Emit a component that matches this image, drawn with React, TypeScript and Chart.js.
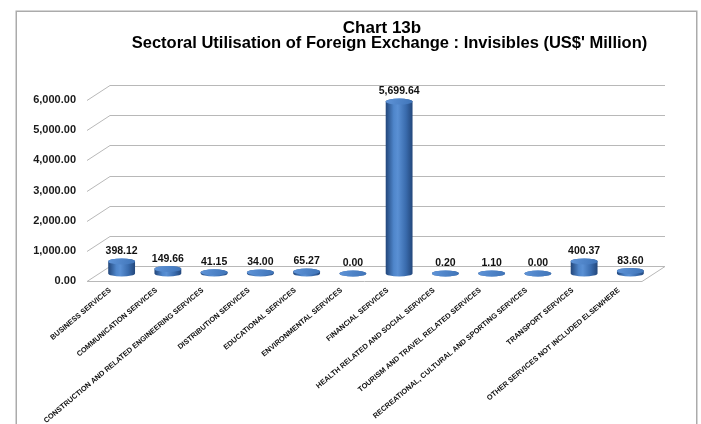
import { useEffect, useRef } from "react";
import { Chart, registerables } from "chart.js";

Chart.register(...registerables);

// Sectors (category axis)
const sectors = [
  "BUSINESS SERVICES",
  "COMMUNICATION SERVICES",
  "CONSTRUCTION AND RELATED ENGINEERING SERVICES",
  "DISTRIBUTION SERVICES",
  "EDUCATIONAL SERVICES",
  "ENVIRONMENTAL SERVICES",
  "FINANCIAL SERVICES",
  "HEALTH RELATED AND SOCIAL SERVICES",
  "TOURISM AND TRAVEL RELATED SERVICES",
  "RECREATIONAL, CULTURAL AND SPORTING SERVICES",
  "TRANSPORT SERVICES",
  "OTHER SERVICES NOT INCLUDED ELSEWHERE",
];

// Utilisation of foreign exchange, US$ million
const utilisation = [398.12, 149.66, 41.15, 34.0, 65.27, 0.0, 5699.64, 0.2, 1.1, 0.0, 400.37, 83.6];

// Value axis ticks
const yTicks = [0, 1000, 2000, 3000, 4000, 5000, 6000];

const titleLines = [
  "Chart 13b",
  "Sectoral Utilisation of Foreign Exchange : Invisibles (US$' Million)",
];

const FONT = "'Liberation Sans', Arial, Helvetica, sans-serif";
// oblique depth of the 3-D box (back wall offset from the front plane)
const DX = 23;
const DY = -15;
const RY = 3;

const fmt = (v: number) =>
  v.toLocaleString("en-US", { minimumFractionDigits: 2, maximumFractionDigits: 2 });

// frame, title, back wall and floor
const boxPlugin = {
  id: "box3d",
  beforeDraw(chart: any) {
    const { ctx } = chart;
    ctx.save();
    ctx.strokeStyle = "#ababab";
    ctx.lineWidth = 1.5;
    ctx.strokeRect(16.25, 11.25, 680.5, 460);
    ctx.fillStyle = "#000000";
    ctx.textAlign = "center";
    ctx.textBaseline = "alphabetic";
    ctx.font = `bold 17px ${FONT}`;
    ctx.fillText(titleLines[0], 382, 33);
    ctx.font = `bold 16.5px ${FONT}`;
    ctx.fillText(titleLines[1], 389.5, 47.5);
    ctx.restore();
  },
  beforeDatasetsDraw(chart: any) {
    const { ctx, chartArea: a } = chart;
    const y = chart.scales.y;
    ctx.save();
    ctx.strokeStyle = "#b8b8b8";
    ctx.lineWidth = 1;
    y.ticks.forEach((t: any) => {
      const py = Math.round(y.getPixelForValue(t.value)) + 0.5;
      ctx.beginPath();
      ctx.moveTo(a.left, py);
      ctx.lineTo(a.left + DX, py + DY);
      ctx.lineTo(a.right + DX, py + DY);
      ctx.stroke();
    });
    const p0 = Math.round(y.getPixelForValue(0)) + 0.5;
    ctx.beginPath();
    ctx.moveTo(a.left, p0);
    ctx.lineTo(a.right, p0);
    ctx.lineTo(a.right + DX, p0 + DY);
    ctx.stroke();
    ctx.restore();
  },
};

// cylinders and their value labels, placed from the bar elements
const cylinderPlugin = {
  id: "cylinders",
  afterDatasetsDraw(chart: any) {
    const { ctx } = chart;
    const meta = chart.getDatasetMeta(0);
    const values = chart.data.datasets[0].data as number[];
    ctx.save();
    meta.data.forEach((bar: any, i: number) => {
      const { x, y, base, width } = bar.getProps(["x", "y", "base", "width"], true);
      const cx = x + DX / 2;
      const rx = width / 2;
      const yt = y + DY / 2;
      const yb = base + DY / 2;

      const side = ctx.createLinearGradient(cx - rx, 0, cx + rx, 0);
      side.addColorStop(0, "#22467a");
      side.addColorStop(0.3, "#4f86cb");
      side.addColorStop(0.45, "#5a90d4");
      side.addColorStop(0.75, "#3a6cae");
      side.addColorStop(1, "#23477b");
      ctx.beginPath();
      ctx.moveTo(cx - rx, yt);
      ctx.lineTo(cx - rx, yb);
      ctx.ellipse(cx, yb, rx, RY, 0, Math.PI, 0, true);
      ctx.lineTo(cx + rx, yt);
      ctx.ellipse(cx, yt, rx, RY, 0, 0, Math.PI, true);
      ctx.closePath();
      ctx.fillStyle = side;
      ctx.fill();

      const top = ctx.createLinearGradient(cx - rx, yt - RY, cx + rx, yt + RY);
      top.addColorStop(0, "#5f94d8");
      top.addColorStop(1, "#3f74b8");
      ctx.beginPath();
      ctx.ellipse(cx, yt, rx, RY, 0, 0, Math.PI * 2);
      ctx.fillStyle = top;
      ctx.fill();

      ctx.fillStyle = "#111111";
      ctx.font = `bold 10.5px ${FONT}`;
      ctx.textAlign = "center";
      ctx.textBaseline = "middle";
      ctx.fillText(fmt(values[i]), cx, yt - 10);
    });
    ctx.restore();
  },
};

export default function App() {
  const ref = useRef<HTMLCanvasElement | null>(null);

  useEffect(() => {
    if (!ref.current) return;
    const chart = new Chart(ref.current, {
      type: "bar",
      data: {
        labels: sectors,
        datasets: [
          {
            data: utilisation,
            backgroundColor: "rgba(0,0,0,0)",
            borderWidth: 0,
            categoryPercentage: 1,
            barPercentage: 0.58,
          },
        ],
      },
      options: {
        animation: false,
        responsive: false,
        devicePixelRatio: 1,
        layout: { padding: { top: 100, right: 59, bottom: 0, left: 0 } },
        plugins: {
          legend: { display: false },
          title: { display: false },
          tooltip: { enabled: false },
        },
        scales: {
          x: {
            grid: { display: false, drawTicks: false },
            border: { display: false },
            ticks: {
              autoSkip: false,
              minRotation: 40,
              maxRotation: 40,
              padding: 5,
              color: "#111111",
              font: { family: FONT, size: 7.35, weight: "bold" },
            },
            afterFit(scale: any) {
              scale.height = 143;
              scale.paddingLeft = 0;
              scale.paddingRight = 0;
            },
          },
          y: {
            min: 0,
            max: 6000,
            afterBuildTicks(scale: any) {
              scale.ticks = yTicks.map((v) => ({ value: v }));
            },
            grid: { display: false, drawTicks: false },
            border: { display: false },
            ticks: {
              padding: 11,
              color: "#1a1a1a",
              font: { family: FONT, size: 11, weight: "bold" },
              callback: (v: any) => fmt(Number(v)),
            },
            afterFit(scale: any) {
              scale.width = 87;
            },
          },
        },
      },
      plugins: [boxPlugin, cylinderPlugin],
    });
    return () => chart.destroy();
  }, []);

  return (
    <div style={{ position: "fixed", left: 0, top: 0, width: 701, height: 424, background: "#ffffff" }}>
      <canvas ref={ref} width={701} height={424} style={{ width: 701, height: 424 }} />
    </div>
  );
}
